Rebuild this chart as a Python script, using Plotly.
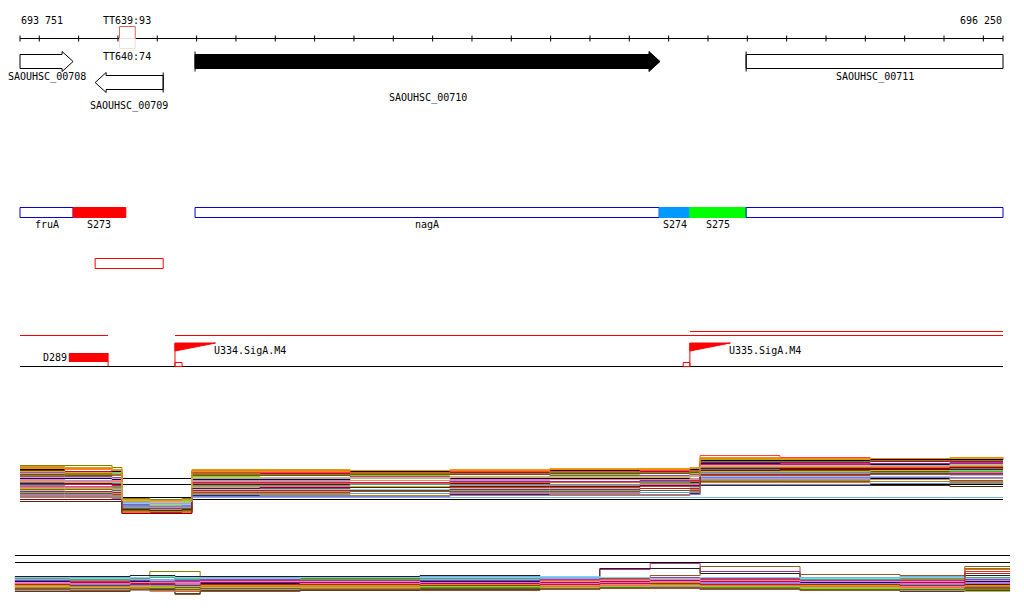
import plotly.graph_objects as go

# ---------------- DATA ----------------
VIEW_START = 693751
VIEW_END = 696250
TICK_STEP = 100
ruler_labels = ["693 751", "696 250"]

gene_names = ["SAOUHSC_00708", "SAOUHSC_00709", "SAOUHSC_00710", "SAOUHSC_00711"]
gene_starts = [693600, 693942, 694196, 695597]
gene_ends = [693886, 694115, 695378, 696900]
gene_strands = ["+", "-", "+", "+"]
gene_filled = [False, False, True, False]

term_labels = ["TT639:93", "TT640:74"]
term_starts = [694004, 694004]
term_ends = [694044, 694044]

seg_names = ["fruA", "S273", "nagA", "S274", "S275", ""]
seg_starts = [693751, 693886, 694196, 695376, 695454, 695597]
seg_ends = [693886, 694020, 695376, 695454, 695597, 696250]
seg_fills = [None, "#FF0000", None, "#0099FF", "#00FF00", None]

redbox_start, redbox_end = 693942, 694115

tx_starts = [693751, 694145]
tx_ends = [693975, 696250]
tx2_start, tx2_end = 695454, 696250

dom_name = "D289"
dom_start, dom_end = 693875, 693975

prom_names = ["U334.SigA.M4", "U335.SigA.M4"]
prom_pos = [694145, 695454]
prom_box_starts = [694145, 695437]
prom_box_ends = [694163, 695454]
FLAG_BP = 103

# expression track 1 (knot positions, bp)
t1_x = [693751, 693865, 693985, 694010, 694081, 694163, 694188, 694361, 694590,
        694844, 695098, 695327, 695454, 695480, 695683, 695912, 696115, 696250]
t1_ref = [36, 30, 15]
t1_values = [
    [49, 49, 47, 14, 13, 14, 42, 43, 44, 44, 45, 45, 46, 53, 54, 54, 55, 55],
    [47, 46, 44, 12, 11, 12, 44, 44, 43, 44, 44, 45, 45, 56, 55, 55, 56, 56],
    [45, 45, 43, 17, 17, 17, 43, 43, 43, 44, 44, 45, 45, 54, 54, 55, 55, 56],
    [44, 43, 42, 10, 9, 10, 40, 41, 41, 42, 42, 43, 44, 52, 52, 53, 53, 53],
    [41, 42, 41, 11, 11, 11, 17, 17, 17, 17, 17, 17, 17, 17, 17, 17, 17, 17],
    [43, 42, 42, 15, 15, 14, 38, 39, 39, 40, 40, 41, 41, 47, 47, 46, 46, 47],
    [38, 38, 37, 8, 7, 8, 37, 37, 38, 38, 39, 39, 40, 50, 51, 51, 52, 52],
    [40, 39, 39, 6, 5, 6, 39, 39, 40, 40, 41, 41, 42, 44, 44, 43, 43, 43],
    [42, 41, 40, 7, 6, 5, 41, 42, 42, 43, 43, 44, 44, 59, 57, 56, 56, 57],
    [36, 36, 35, 9, 8, 9, 35, 35, 36, 36, 37, 37, 38, 51, 50, 50, 49, 49],
    [35, 34, 34, 5, 4, 5, 36, 36, 36, 37, 37, 38, 38, 46, 46, 47, 47, 48],
    [37, 37, 36, 13, 12, 12, 37, 37, 37, 38, 38, 38, 39, 49, 49, 49, 50, 50],
    [39, 40, 39, 16, 15, 16, 40, 40, 41, 41, 42, 42, 43, 53, 53, 54, 54, 54],
    [33, 33, 32, 12, 11, 10, 33, 33, 34, 34, 35, 35, 35, 36, 36, 35, 36, 36],
    [34, 34, 33, 4, 3, 4, 34, 34, 34, 35, 35, 35, 36, 48, 48, 48, 49, 49],
    [32, 31, 31, 10, 10, 9, 31, 32, 32, 33, 33, 33, 34, 45, 45, 45, 46, 46],
    [31, 31, 30, 3, 3, 3, 30, 30, 31, 31, 32, 32, 32, 44, 45, 45, 45, 45],
    [48, 47, 45, 13, 13, 13, 45, 45, 44, 45, 46, 46, 47, 55, 55, 56, 56, 57],
    [30, 30, 29, 6, 5, 6, 32, 32, 32, 33, 33, 34, 34, 50, 50, 51, 51, 51],
    [29, 28, 28, 8, 8, 7, 29, 29, 30, 30, 30, 31, 31, 42, 42, 42, 43, 43],
    [28, 28, 27, 2, 2, 2, 31, 31, 31, 32, 32, 32, 33, 47, 47, 47, 48, 48],
    [27, 27, 26, 5, 5, 4, 28, 28, 28, 29, 29, 30, 30, 41, 41, 41, 42, 42],
    [26, 26, 25, 9, 9, 9, 27, 27, 28, 28, 28, 29, 29, 43, 43, 44, 44, 44],
    [25, 25, 24, 4, 4, 4, 26, 26, 27, 27, 27, 28, 28, 39, 39, 40, 40, 40],
    [24, 23, 23, 11, 10, 10, 25, 25, 25, 26, 26, 26, 27, 38, 38, 38, 39, 39],
    [23, 23, 22, 3, 2, 2, 24, 24, 24, 25, 25, 26, 26, 40, 40, 41, 41, 41],
    [22, 22, 21, 7, 7, 7, 23, 23, 23, 24, 24, 24, 25, 35, 35, 35, 36, 36],
    [21, 21, 20, 6, 6, 6, 22, 22, 23, 23, 23, 24, 24, 33, 33, 33, 34, 34],
    [20, 20, 19, 2, 1, 2, 21, 21, 21, 22, 22, 22, 23, 32, 32, 33, 33, 33],
    [19, 19, 18, 8, 8, 8, 20, 20, 21, 21, 21, 22, 22, 30, 30, 31, 31, 31],
    [13, 13, 13, 5, 4, 5, 19, 19, 19, 20, 20, 20, 21, 29, 29, 29, 28, 28],
    [18, 18, 17, 3, 3, 3, 18, 19, 19, 19, 20, 20, 20, 34, 34, 33, 32, 31],
    [17, 17, 16, 9, 8, 9, 18, 18, 18, 19, 19, 19, 20, 37, 37, 37, 37, 37],
    [46, 45, 44, 15, 14, 15, 43, 43, 44, 44, 45, 45, 46, 57, 56, 56, 57, 57],
    [15, 15, 15, 1, 1, 1, 26, 27, 27, 28, 28, 29, 29, 46, 46, 46, 47, 47],
    [33, 32, 32, 14, 13, 13, 36, 36, 36, 37, 37, 37, 38, 48, 48, 49, 49, 49],
]
t1_colors = ["#808000", "#E08020", "#000000", "#C00040", "#70B8E8", "#80E000",
             "#A040A0", "#8B4513", "#FF4040", "#000080", "#FF80A0", "#D2B48C",
             "#6B8E23", "#A0A0E0", "#FA8072", "#4682B4", "#800000", "#D4A017",
             "#C71585", "#3CB371", "#D2691E", "#DA70D6", "#9ACD32", "#A0522D",
             "#87CEEB", "#B22222", "#BC8F8F", "#556B2F", "#FF6347", "#6495ED",
             "#4A2A10", "#B8860B", "#9370DB", "#FF8C00", "#8B0000", "#BDB76B"]

# expression track 2
t2_x = [693738, 693878, 694031, 694081, 694145, 694209, 694463, 694768,
        695073, 695225, 695353, 695480, 695734, 695988, 696153, 696268]
t2_ref = [44, 37, 22]
t2_values = [
    [21, 20, 22, 28, 28, 21, 21, 22, 21, 22, 20, 12, 17, 18, 31, 31],
    [18, 19, 18, 17, 18, 19, 19, 20, 22, 30, 36, 28, 20, 19, 22, 22],
    [23, 23, 24, 24, 23, 23, 23, 24, 23, 31, 31, 26, 22, 22, 24, 24],
    [16, 15, 16, 15, 5, 8, 15, 16, 17, 18, 24, 33, 25, 24, 33, 33],
    [19, 19, 18, 19, 17, 18, 18, 18, 19, 20, 21, 22, 21, 20, 30, 30],
    [22, 22, 21, 20, 21, 22, 22, 23, 22, 21, 22, 21, 22, 23, 20, 20],
    [12, 11, 12, 10, 9, 11, 12, 11, 12, 12, 13, 12, 11, 10, 9, 9],
    [17, 18, 17, 16, 15, 16, 17, 17, 18, 19, 20, 21, 19, 18, 28, 28],
    [14, 13, 14, 13, 12, 13, 14, 14, 15, 16, 17, 16, 15, 14, 15, 15],
    [20, 21, 20, 19, 20, 21, 20, 20, 21, 22, 21, 20, 20, 21, 21, 21],
    [15, 16, 15, 14, 13, 14, 15, 16, 16, 17, 18, 17, 16, 15, 17, 17],
    [18, 17, 18, 17, 16, 16, 17, 18, 17, 18, 19, 18, 17, 16, 18, 18],
    [13, 14, 13, 12, 11, 12, 13, 14, 14, 15, 16, 15, 14, 13, 14, 14],
    [16, 17, 16, 15, 16, 17, 17, 16, 17, 18, 19, 18, 18, 17, 19, 19],
    [21, 20, 21, 22, 20, 21, 20, 21, 20, 21, 20, 19, 20, 21, 22, 22],
    [19, 18, 19, 18, 19, 20, 19, 19, 20, 21, 22, 20, 19, 18, 20, 20],
    [11, 12, 11, 12, 10, 11, 11, 12, 13, 14, 14, 12, 12, 11, 10, 10],
    [10, 10, 11, 9, 8, 10, 11, 10, 11, 12, 12, 11, 10, 10, 12, 12],
    [17, 16, 17, 16, 17, 18, 18, 17, 18, 19, 20, 19, 18, 18, 19, 19],
    [15, 15, 14, 14, 15, 15, 16, 15, 16, 17, 17, 16, 16, 15, 16, 16],
    [14, 14, 15, 13, 14, 14, 14, 15, 15, 16, 17, 15, 14, 14, 14, 14],
    [8, 8, 9, 10, 6, 9, 9, 10, 10, 11, 12, 10, 9, 8, 9, 9],
    [12, 13, 12, 11, 12, 13, 13, 13, 13, 14, 15, 14, 13, 12, 13, 13],
    [13, 12, 13, 12, 11, 12, 12, 13, 12, 13, 14, 13, 12, 11, 8, 8],
    [9, 10, 9, 8, 9, 10, 10, 11, 11, 12, 13, 11, 10, 9, 11, 11],
    [10, 9, 10, 11, 10, 11, 10, 9, 10, 11, 11, 10, 9, 10, 11, 11],
    [16, 16, 15, 17, 16, 15, 16, 17, 16, 17, 18, 17, 16, 16, 17, 17],
    [22, 21, 22, 23, 22, 21, 22, 22, 23, 22, 21, 22, 21, 22, 21, 21],
    [15, 14, 15, 16, 14, 15, 15, 14, 15, 16, 16, 15, 15, 14, 26, 26],
    [11, 11, 10, 11, 12, 11, 10, 11, 11, 12, 12, 11, 10, 10, 12, 12],
]
t2_colors = ["#808000", "#B03090", "#202020", "#8B5A2B", "#E07020", "#70B8E8",
             "#80E000", "#E03030", "#800000", "#B0A0E0", "#D2A060", "#000080",
             "#FA8072", "#C00040", "#3CB371", "#9040A0", "#6B8E23", "#D2691E",
             "#FF80A0", "#6495ED", "#C8A000", "#5A3A20", "#FF6347", "#9ACD32",
             "#BC8F8F", "#A0522D", "#DA70D6", "#87CEEB", "#B22222", "#556B2F"]

# ---------------- LAYOUT CONSTANTS ----------------
W, H = 1024, 611
LEFT_PX, RIGHT_PX = 20, 1003
BPP = (VIEW_END - VIEW_START) / (RIGHT_PX - LEFT_PX)
X_RANGE = [VIEW_START - LEFT_PX * BPP, VIEW_START + (W - LEFT_PX) * BPP]
HEAD_BP = 11 * BPP
FONT = dict(family="DejaVu Sans Mono", size=10, color="black")

fig = go.Figure()
shapes = []
annotations = []


def line(x0, y0, x1, y1, color="black", width=1):
    fig.add_trace(go.Scatter(x=[x0, x1], y=[y0, y1], mode="lines",
                             line=dict(color=color, width=width),
                             hoverinfo="skip", showlegend=False, xaxis="x", yaxis="y"))


def rect(x0, y0, x1, y1, fill=None, color="black", width=1):
    shapes.append(dict(type="rect", xref="x", yref="y", x0=x0, y0=y0, x1=x1, y1=y1,
                       fillcolor=fill if fill else "rgba(0,0,0,0)",
                       line=dict(color=color, width=width), layer="above"))


def hbar(x0, x1, row, color):
    shapes.append(dict(type="rect", xref="x", yref="y", x0=x0, y0=row, x1=x1, y1=row + 1,
                       fillcolor=color, line=dict(width=0), layer="above"))


def text(x, y, s, anchor="center"):
    annotations.append(dict(x=x, y=y, xref="x", yref="y", text=s, showarrow=False,
                            xanchor=anchor, yanchor="middle", font=FONT, borderpad=0))


def poly(xs, ys, fill, color="black"):
    fig.add_trace(go.Scatter(x=xs + [xs[0]], y=ys + [ys[0]], mode="lines", fill="toself",
                             fillcolor=fill, line=dict(color=color, width=1),
                             hoverinfo="skip", showlegend=False, xaxis="x", yaxis="y"))


# ---------------- RULER ----------------
line(VIEW_START, 38.5, VIEW_END, 38.5)
ticks = [VIEW_START] + list(range((VIEW_START // TICK_STEP + 1) * TICK_STEP, VIEW_END, TICK_STEP)) + [VIEW_END]
for t in ticks:
    line(t, 35.5, t, 41.5)
text(VIEW_START, 20.5, ruler_labels[0], "left")
text(VIEW_END, 20.5, ruler_labels[1], "right")
rect(term_starts[0], 26.5, term_ends[0], 38.5, color="#F06050")
rect(term_starts[1], 38.5, term_ends[1], 48.5, color="#F5E0D8")
text((term_starts[0] + term_ends[0]) / 2, 20.5, term_labels[0])
text((term_starts[1] + term_ends[1]) / 2, 56.5, term_labels[1])

# ---------------- GENES ----------------
gene_cy = [61.5, 82.5, 61.5, 61.5]
gene_label_y = [76.5, 106, 97.5, 76.5]
BODY_H, HEAD_H = 7, 10
for name, s, e, st, filled, cy, ly in zip(gene_names, gene_starts, gene_ends, gene_strands,
                                          gene_filled, gene_cy, gene_label_y):
    vs, ve = max(s, VIEW_START), min(e, VIEW_END)
    fill = "black" if filled else "white"
    b0, b1, h0, h1 = cy - BODY_H, cy + BODY_H, cy - HEAD_H, cy + HEAD_H
    if st == "+":
        if e <= VIEW_END:
            xs = [vs, ve - HEAD_BP, ve - HEAD_BP, ve, ve - HEAD_BP, ve - HEAD_BP, vs]
            ys = [b0, b0, h0, cy, h1, b1, b1]
        else:
            xs = [vs, ve, ve, vs]
            ys = [b0, b0, b1, b1]
        bar_x = s if s >= VIEW_START else None
    else:
        if s >= VIEW_START:
            xs = [ve, vs + HEAD_BP, vs + HEAD_BP, vs, vs + HEAD_BP, vs + HEAD_BP, ve]
            ys = [b0, b0, h0, cy, h1, b1, b1]
        else:
            xs = [ve, vs, vs, ve]
            ys = [b0, b0, b1, b1]
        bar_x = e if e <= VIEW_END else None
    poly(xs, ys, fill)
    if bar_x is not None:
        line(bar_x, h0, bar_x, h1)
    text((vs + ve) / 2, ly, name)

# ---------------- SEGMENT ANNOTATIONS ----------------
for name, s, e, f in zip(seg_names, seg_starts, seg_ends, seg_fills):
    if f:
        rect(s, 207.5, e, 217.5, fill=f, color=f)
    else:
        rect(s, 207.5, e, 217.5, fill="white", color="#0000D0")
    if name:
        text((s + e) / 2, 224.5, name)
rect(redbox_start, 258.5, redbox_end, 268.5, color="#FF0000")

# ---------------- TRANSCRIPTS / PROMOTERS ----------------
for s, e in zip(tx_starts, tx_ends):
    hbar(s, e, 335, "#FF0000")
hbar(tx2_start, tx2_end, 331, "#FF0000")
line(VIEW_START, 366.5, VIEW_END, 366.5)
rect(dom_start, 353, dom_end, 362, fill="#FF0000", color="#FF0000", width=0)
line(dom_end, 353, dom_end, 366.5, color="#FF0000")
text(dom_start - 0.5 * BPP, 357, dom_name, "right")
for name, p, bs, be in zip(prom_names, prom_pos, prom_box_starts, prom_box_ends):
    poly([p, p + FLAG_BP, p], [343, 343, 351], "#FF0000", color="#FF0000")
    line(p, 343, p, 366.5, color="#FF0000")
    rect(bs, 362.5, be, 366.5, color="#FF0000")
    text(p + 38 * BPP, 350.5, name, "left")

# ---------------- EXPRESSION TRACKS ----------------
for lvl in t1_ref:
    fig.add_trace(go.Scatter(x=[VIEW_START, VIEW_END], y=[lvl, lvl], mode="lines",
                             line=dict(color="black", width=1), hoverinfo="skip",
                             showlegend=False, xaxis="x", yaxis="y2"))
for vals, c in zip(t1_values, t1_colors):
    fig.add_trace(go.Scatter(x=t1_x, y=vals, mode="lines", line=dict(color=c, width=1, shape="hv"),
                             hoverinfo="skip", showlegend=False, xaxis="x", yaxis="y2"))
for lvl in t2_ref:
    fig.add_trace(go.Scatter(x=[t2_x[0], t2_x[-1]], y=[lvl, lvl], mode="lines",
                             line=dict(color="black", width=1), hoverinfo="skip",
                             showlegend=False, xaxis="x", yaxis="y3"))
for vals, c in zip(t2_values, t2_colors):
    fig.add_trace(go.Scatter(x=t2_x, y=vals, mode="lines", line=dict(color=c, width=1, shape="hv"),
                             hoverinfo="skip", showlegend=False, xaxis="x", yaxis="y3"))


def dom(top_px, bottom_px):
    return [(H - bottom_px) / H, (H - top_px) / H]


hidden = dict(visible=False, showgrid=False, zeroline=False, fixedrange=True)
fig.update_layout(
    width=W, height=H, autosize=False,
    margin=dict(l=0, r=0, t=0, b=0, pad=0),
    paper_bgcolor="white", plot_bgcolor="white",
    showlegend=False,
    xaxis=dict(range=X_RANGE, domain=[0, 1], **hidden),
    yaxis=dict(range=[H, 0], domain=[0, 1], **hidden),
    yaxis2=dict(range=[-0.5, 69.5], domain=dom(445, 515), anchor="x", **hidden),
    yaxis3=dict(range=[-0.5, 54.5], domain=dom(545, 600), anchor="x", **hidden),
    shapes=shapes,
    annotations=annotations,
)

fig.write_html("out.html", config={"displayModeBar": False, "staticPlot": True},
               post_script="document.body.style.margin='0';document.body.style.padding='0';")
